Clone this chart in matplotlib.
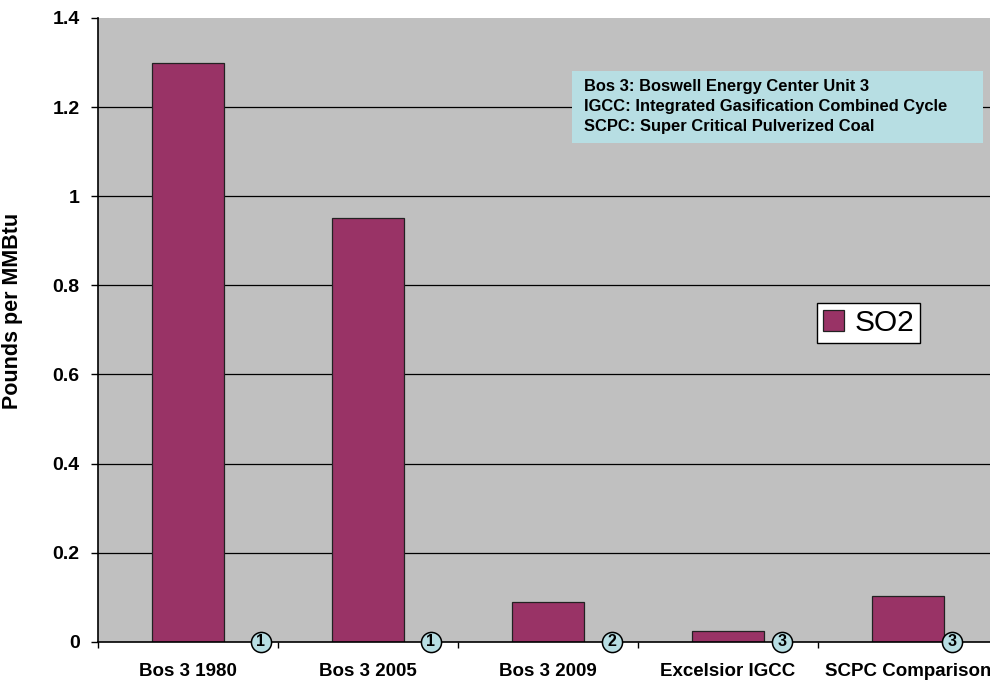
#!/usr/bin/env python3
"""SO2 emission rates for Boswell Unit 3 and comparison plants."""

import matplotlib
matplotlib.use('Agg')
import matplotlib.pyplot as plt
import numpy as np

plt.rcParams['font.family'] = ['Liberation Sans', 'DejaVu Sans']

# Data
categories = ['Bos 3 1980', 'Bos 3 2005', 'Bos 3 2009', 'Excelsior IGCC', 'SCPC Comparison']
so2 = [1.30, 0.95, 0.09, 0.023, 0.103]
note_ids = ['1', '1', '2', '3', '3']
note_x = [0.407, 1.35, 2.356, 3.302, 4.246]   # footnote markers, data coords
y_ticks = [0, 0.2, 0.4, 0.6, 0.8, 1, 1.2, 1.4]
y_labels = ['0', '0.2', '0.4', '0.6', '0.8', '1', '1.2', '1.4']
glossary = ['Bos 3: Boswell Energy Center Unit 3',
            'IGCC: Integrated Gasification Combined Cycle',
            'SCPC: Super Critical Pulverized Coal']

BAR = '#993366'
BG = '#C0C0C0'
CYAN = '#B7DEE3'

fig = plt.figure(figsize=(9.9, 6.8), dpi=100)
ax = fig.add_axes([97.7 / 990, 38.3 / 680, 900 / 990, 623.7 / 680])
ax.set_facecolor(BG)

x = np.arange(len(categories))
ax.bar(x, so2, width=0.4, color=BAR, edgecolor='#222222', linewidth=0.9,
       label='SO2', zorder=3)

ax.set_xlim(-0.5, len(categories) - 0.5)
ax.set_ylim(0, 1.4)

# horizontal gridlines (not at the top edge)
for yv in y_ticks[1:-1]:
    ax.axhline(yv, color='black', linewidth=0.9, zorder=1)

ax.set_yticks(y_ticks)
ax.set_yticklabels(y_labels, fontsize=14, fontweight='bold')
ax.tick_params(axis='y', length=5, width=1, pad=8)

# category boundaries carry the ticks, centres carry the labels
ax.set_xticks(np.arange(len(categories) + 1) - 0.5)
ax.set_xticklabels([])
ax.set_xticks(x, minor=True)
ax.set_xticklabels(categories, minor=True, fontsize=13.5, fontweight='bold')
ax.tick_params(axis='x', which='major', length=4, width=1)
ax.tick_params(axis='x', which='minor', length=0, pad=15)

for side in ['top', 'right']:
    ax.spines[side].set_visible(False)
for side in ['left', 'bottom']:
    ax.spines[side].set_linewidth(1.2)
    ax.spines[side].set_zorder(4)

ax.set_ylabel('Pounds per MMBtu', fontsize=15.5, fontweight='bold')
ax.yaxis.set_label_coords(-75 / 900, 0.53)

# footnote circles on the axis line
ax.plot(note_x, [0] * len(note_x), 'o', markersize=14.5, markerfacecolor=CYAN,
        markeredgecolor='black', markeredgewidth=1.1, clip_on=False, zorder=6)
for nx, nid in zip(note_x, note_ids):
    ax.text(nx, 0, nid, ha='center', va='center', fontsize=11.5,
            fontweight='bold', zorder=7, clip_on=False)

# glossary box
fig.patches.append(plt.Rectangle((571.7 / 990, 1 - 143.3 / 680), 411 / 990, 72.3 / 680,
                                 transform=fig.transFigure, facecolor=CYAN,
                                 edgecolor='none', zorder=5))
for i, line in enumerate(glossary):
    fig.text(584 / 990, 1 - (87 + 20 * i) / 680, line, fontsize=11.9,
             fontweight='bold', va='center', ha='left', zorder=6)

leg = ax.legend(loc='upper left', bbox_to_anchor=(817 / 990, 1 - 303 / 680),
                bbox_transform=fig.transFigure, fontsize=21.5, frameon=True,
                fancybox=False, framealpha=1, edgecolor='black',
                handlelength=0.7, handleheight=0.7, handletextpad=0.35,
                borderpad=0.2, borderaxespad=0)
leg.get_frame().set_linewidth(1.0)

fig.savefig('out.png', dpi=100, facecolor='white')
